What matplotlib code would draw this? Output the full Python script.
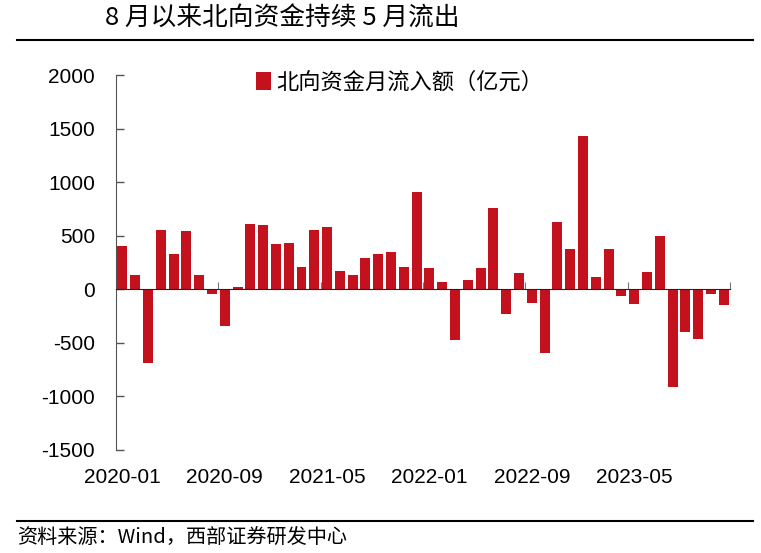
import numpy as np
import pandas as pd
import matplotlib
matplotlib.use('Agg')
import matplotlib.pyplot as plt
from matplotlib.lines import Line2D

plt.rcParams['font.family'] = ['Liberation Sans', 'Noto Sans CJK SC', 'DejaVu Sans']
plt.rcParams['axes.unicode_minus'] = False
CJK = ['Noto Sans CJK SC', 'Liberation Sans', 'DejaVu Sans']

# 北向资金月度净流入（亿元），2020-01 ~ 2023-12
months = pd.period_range('2020-01', '2023-12', freq='M').strftime('%Y-%m').tolist()
flows = [
    405, 135, -690, 550, 325, 545, 130, -40, -345, 25, 605, 600,      # 2020
    425, 435, 210, 550, 580, 175, 135, 290, 330, 350, 210, 910,       # 2021
    195, 65, -470, 85, 195, 755, -230, 150, -130, -595, 625, 375,     # 2022
    1430, 115, 375, -60, -140, 165, 495, -915, -395, -465, -40, -145, # 2023
]
label_every = 8
title = '8 月以来北向资金持续 5 月流出'
legend_label = '北向资金月流入额（亿元）'
source = '资料来源：Wind，西部证券研发中心'
yticks = [-1500, -1000, -500, 0, 500, 1000, 1500, 2000]

bar_color = '#C3111E'

fig = plt.figure(figsize=(7.61, 5.53), dpi=100)
ax = fig.add_axes([0.1524, 0.1863, 0.807, 0.678])

x = np.arange(len(months))
ax.bar(x, flows, width=0.78, color=bar_color, label=legend_label, zorder=1)

ax.set_xlim(-0.5, len(months) - 0.5)
ax.set_ylim(-1500, 2000)
ax.set_yticks(yticks)
ax.tick_params(axis='y', direction='in', length=6, width=1, color='#555555',
               labelsize=15, pad=15)

# x 轴放在 0 处，刻度线在分组边界
ax.spines['bottom'].set_position(('data', 0))
ax.spines['bottom'].set_color('#222222')
ax.spines['bottom'].set_zorder(3)
ax.set_xticks(np.arange(label_every - 0.5, len(months), label_every))
ax.tick_params(axis='x', direction='in', length=5, color='#777777', labelbottom=False)
ax.spines['left'].set_color('#555555')
for s in ['top', 'right']:
    ax.spines[s].set_visible(False)

# 日期标签放在图底部
sec = ax.secondary_xaxis(0)
sec.set_xticks(x[::label_every], [months[i] for i in x[::label_every]])
sec.tick_params(length=0, labelsize=15, pad=13)
sec.spines['bottom'].set_visible(False)

leg = ax.legend(loc='upper center', bbox_to_anchor=(0.462, 1.065), frameon=False,
                handlelength=0.65, handleheight=0.85, handletextpad=0.25,
                prop={'family': CJK, 'size': 16})

fig.text(0.138, 0.967, title, fontsize=18.5, family=CJK, va='center', ha='left')
fig.text(0.022, 0.028, source, fontsize=14.5, family=CJK, va='center', ha='left')

fig.add_artist(Line2D([0.022, 0.99], [1 - 40 / 553] * 2, transform=fig.transFigure,
                      color='black', lw=1.5))
fig.add_artist(Line2D([0.022, 0.99], [1 - 521 / 553] * 2, transform=fig.transFigure,
                      color='black', lw=1.5))

fig.savefig('out.png', dpi=100)
